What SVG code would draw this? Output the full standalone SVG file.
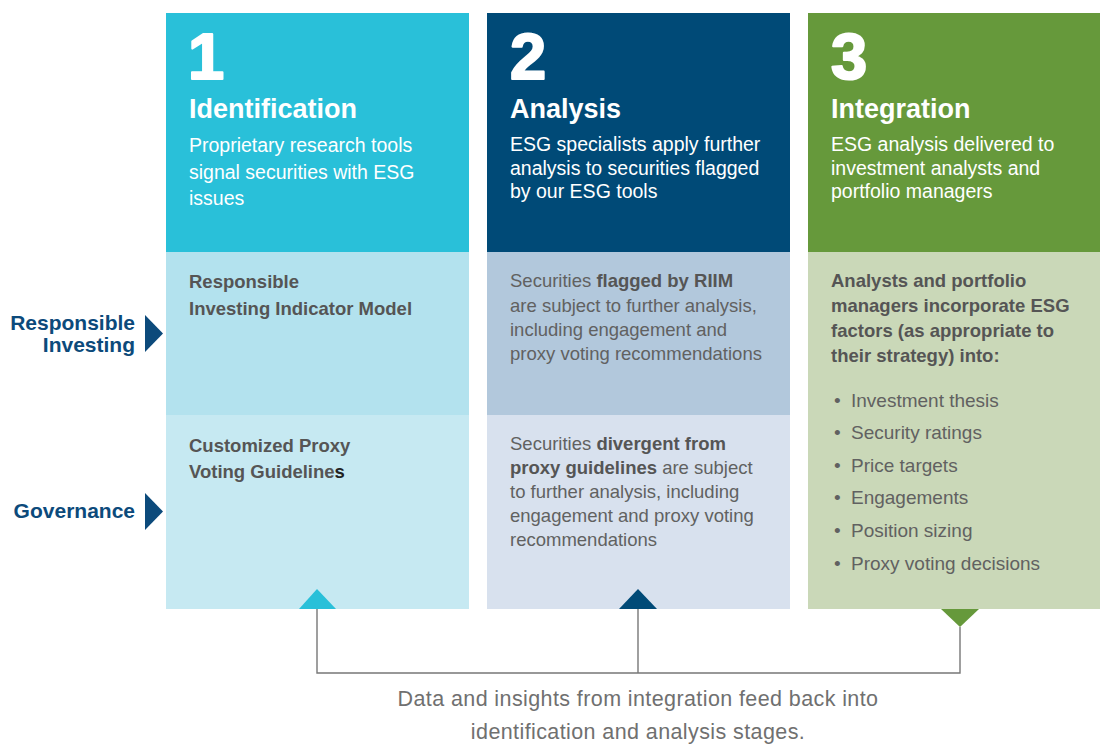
<svg xmlns="http://www.w3.org/2000/svg" width="1100" height="745" viewBox="0 0 1100 745">
  <style>
    text { font-family: "Liberation Sans", Arial, Helvetica, sans-serif; }
    .num { font-size: 65px; font-weight: bold; fill: #ffffff; stroke: #ffffff; stroke-width: 2.2; stroke-linejoin: round; }
    .ttl { font-size: 27px; font-weight: bold; fill: #ffffff; }
    .sub { font-size: 19.5px; fill: #ffffff; }
    .bd { font-size: 18.5px; font-weight: bold; fill: #555555; }
    .rg { font-size: 18.5px; fill: #616161; }
    .bl { font-size: 19px; fill: #616161; }
    .lbl { font-size: 21px; font-weight: bold; fill: #0c4a7b; text-anchor: end; }
    .cap { font-size: 21.5px; fill: #707070; text-anchor: middle; letter-spacing: 0.4px; }
    .conn { fill: none; stroke: #777777; stroke-width: 1.4; }
  </style>

  <g id="label-responsible-investing">
    <text class="lbl" x="135" y="330">Responsible</text>
    <text class="lbl" x="135" y="352">Investing</text>
    <polygon points="145,315 163,333.5 145,352" fill="#0c4a7b"/>
  </g>

  <g id="label-governance">
    <text class="lbl" x="135" y="518">Governance</text>
    <polygon points="145,493 163,511.5 145,530" fill="#0c4a7b"/>
  </g>

  <g id="col1-identification">
    <rect x="166" y="13" width="303" height="239" fill="#29c0d9"/>
    <text class="num" x="188" y="79">1</text>
    <text class="ttl" x="189" y="118">Identification</text>
    <text class="sub" x="189" y="152">Proprietary research tools</text>
    <text class="sub" x="189" y="179">signal securities with ESG</text>
    <text class="sub" x="189" y="205">issues</text>
  </g>
  <g id="col1-ri">
    <rect x="166" y="252" width="303" height="163" fill="#b3e2ee"/>
    <text class="bd" x="189" y="288">Responsible</text>
    <text class="bd" x="189" y="315">Investing Indicator Model</text>
  </g>
  <g id="col1-gov">
    <rect x="166" y="415" width="303" height="194" fill="#c6e9f2"/>
    <text class="bd" x="189" y="452">Customized Proxy</text>
    <text class="bd" x="189" y="478">Voting Guideline<tspan fill="#222222">s</tspan></text>
    <polygon points="299,609 317,589 336,609" fill="#29c0d9"/>
  </g>

  <g id="col2-analysis">
    <rect x="487" y="13" width="303" height="239" fill="#004a77"/>
    <text class="num" x="510" y="79">2</text>
    <text class="ttl" x="510" y="118">Analysis</text>
    <text class="sub" x="510" y="151">ESG specialists apply further</text>
    <text class="sub" x="510" y="175">analysis to securities flagged</text>
    <text class="sub" x="510" y="198">by our ESG tools</text>
  </g>
  <g id="col2-ri">
    <rect x="487" y="252" width="303" height="163" fill="#b2c8dc"/>
    <text class="rg" x="510" y="287">Securities <tspan class="bd">flagged by RIIM</tspan></text>
    <text class="rg" x="510" y="312">are subject to further analysis,</text>
    <text class="rg" x="510" y="336">including engagement and</text>
    <text class="rg" x="510" y="360">proxy voting recommendations</text>
  </g>
  <g id="col2-gov">
    <rect x="487" y="415" width="303" height="194" fill="#d8e1ee"/>
    <text class="rg" x="510" y="450">Securities <tspan class="bd">divergent from</tspan></text>
    <text class="rg" x="510" y="474"><tspan class="bd">proxy guidelines</tspan> are subject</text>
    <text class="rg" x="510" y="498">to further analysis, including</text>
    <text class="rg" x="510" y="522">engagement and proxy voting</text>
    <text class="rg" x="510" y="546">recommendations</text>
    <polygon points="619,609 638,589 657,609" fill="#004a77"/>
  </g>

  <g id="col3-integration">
    <rect x="808" y="13" width="292" height="239" fill="#66993b"/>
    <text class="num" x="831" y="79">3</text>
    <text class="ttl" x="831" y="118">Integration</text>
    <text class="sub" x="831" y="151">ESG analysis delivered to</text>
    <text class="sub" x="831" y="175">investment analysts and</text>
    <text class="sub" x="831" y="198">portfolio managers</text>
  </g>
  <g id="col3-detail">
    <rect x="808" y="252" width="292" height="357" fill="#cad8b8"/>
    <text class="bd" x="831" y="287">Analysts and portfolio</text>
    <text class="bd" x="831" y="312">managers incorporate ESG</text>
    <text class="bd" x="831" y="337">factors (as appropriate to</text>
    <text class="bd" x="831" y="362">their strategy) into:</text>
    <text class="bl" x="834" y="407">•</text><text class="bl" x="851" y="407">Investment thesis</text>
    <text class="bl" x="834" y="439">•</text><text class="bl" x="851" y="439">Security ratings</text>
    <text class="bl" x="834" y="472">•</text><text class="bl" x="851" y="472">Price targets</text>
    <text class="bl" x="834" y="504">•</text><text class="bl" x="851" y="504">Engagements</text>
    <text class="bl" x="834" y="537">•</text><text class="bl" x="851" y="537">Position sizing</text>
    <text class="bl" x="834" y="570">•</text><text class="bl" x="851" y="570">Proxy voting decisions</text>
    <polygon points="941,609 979,609 960,627" fill="#66993b"/>
  </g>

  <g id="connectors">
    <polyline class="conn" points="317,609 317,673 960,673 960,627"/>
    <line class="conn" x1="638" y1="609" x2="638" y2="673"/>
  </g>

  <g id="caption">
    <text class="cap" x="638" y="706">Data and insights from integration feed back into</text>
    <text class="cap" x="638" y="739">identification and analysis stages.</text>
  </g>
</svg>
